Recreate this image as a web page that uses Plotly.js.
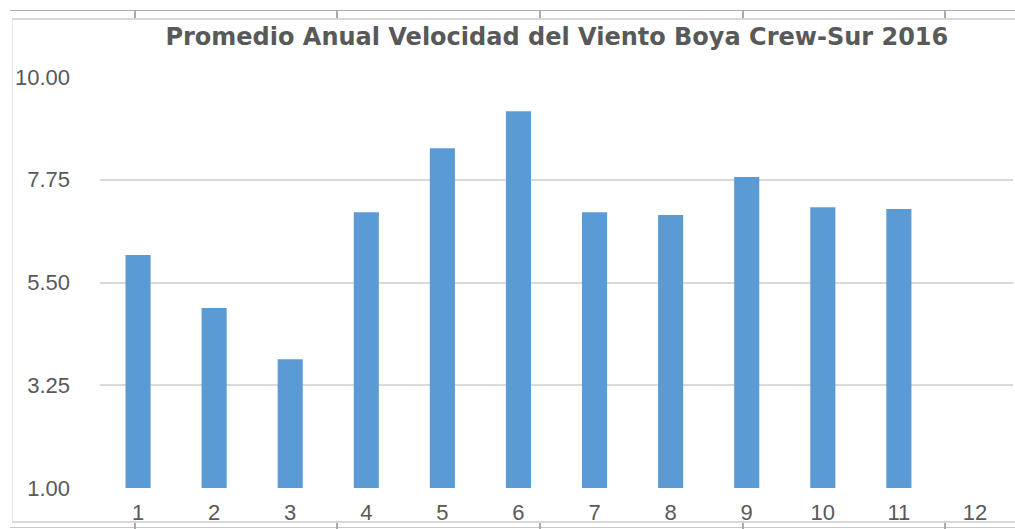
<!DOCTYPE html>
<html>
<head>
<meta charset="utf-8">
<script src="https://cdn.plot.ly/plotly-3.0.1.min.js"></script>
<style>
  html, body { margin: 0; padding: 0; background: #fff; }
  #chart { width: 1015px; height: 529px; }
</style>
</head>
<body>
<div id="chart"></div>
<script>
const months = ['1', '2', '3', '4', '5', '6', '7', '8', '9', '10', '11', '12'];
const speeds = [6.10, 4.94, 3.82, 7.04, 8.44, 9.25, 7.04, 6.98, 7.81, 7.15, 7.11, null];
const yTicks = [1.00, 3.25, 5.50, 7.75, 10.00];
const yTickText = ['1.00', '3.25', '5.50', '7.75', '10.00'];

// plot area in pixels, used to place the sheet lines around the chart
const W = 1015, H = 529;
const M = {l: 100, r: 2, t: 77, b: 41};
const pw = W - M.l - M.r, ph = H - M.t - M.b;
const px = x => (x - M.l) / pw;
const py = y => (H - M.b - y) / ph;

function line(x0, y0, x1, y1, color, width) {
  return {type: 'line', xref: 'paper', yref: 'paper', layer: 'below',
    x0: px(x0), y0: py(y0), x1: px(x1), y1: py(y1),
    line: {color: color, width: width || 1}};
}

const shapes = [
  line(10, 10.5, 1015, 10.5, '#ABABAB'),
  line(12, 19, 1015, 19, '#D9D9D9', 2),
  line(12.5, 19, 12.5, 522, '#E6E6E6'),
  line(12, 522, 1015, 522, '#D9D9D9', 2),
  line(10, 527.5, 1015, 527.5, '#C8C8C8')
];
[135, 337, 540, 743, 945].forEach(x => {
  shapes.push(line(x, 10, x, 18, '#ABABAB', 2));
  shapes.push(line(x, 523, x, 529, '#ABABAB', 2));
});

// bars start at the 1.00 baseline
const data = [{
  type: 'bar',
  x: months,
  y: speeds.map(v => v === null ? null : v - 1),
  base: 1,
  marker: {color: '#5B9BD5'},
  hoverinfo: 'x+y'
}];

const tickFont = {family: 'Liberation Sans', size: 22, color: '#595959'};

const layout = {
  width: W,
  height: H,
  margin: M,
  paper_bgcolor: '#fff',
  plot_bgcolor: '#fff',
  bargap: 0.67,
  showlegend: false,
  title: {
    text: '<b>Promedio Anual Velocidad del Viento Boya Crew-Sur 2016</b>',
    font: {family: 'DejaVu Sans', size: 24, color: '#595959'},
    x: 0.5486, xanchor: 'center',
    y: 0.93, yanchor: 'middle'
  },
  xaxis: {
    type: 'category',
    showgrid: false,
    showline: false,
    zeroline: false,
    ticks: '',
    ticklabelstandoff: 9,
    tickfont: tickFont
  },
  yaxis: {
    range: [1, 10],
    tickvals: yTicks,
    ticktext: yTickText,
    showgrid: true,
    gridcolor: '#D9D9D9',
    gridwidth: 2,
    zeroline: false,
    showline: false,
    ticks: '',
    ticklabelstandoff: 29,
    tickfont: tickFont
  },
  shapes: shapes
};

Plotly.newPlot('chart', data, layout, {displayModeBar: false, staticPlot: true});
</script>
</body>
</html>
